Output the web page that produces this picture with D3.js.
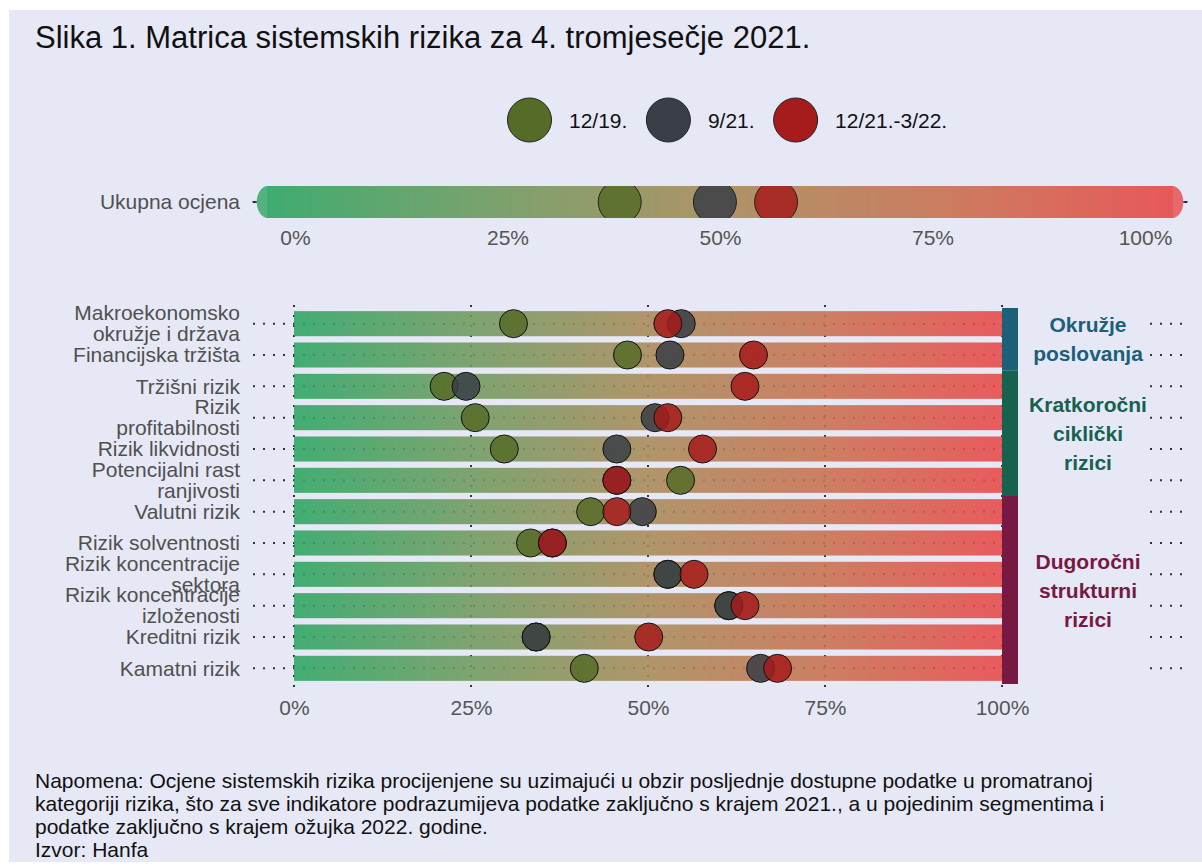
<!DOCTYPE html>
<html>
<head>
<meta charset="utf-8">
<script src="https://cdn.jsdelivr.net/npm/d3@7"></script>
<style>
  body { margin: 0; background: #fff; }
  text { font-family: "Liberation Sans", Arial, sans-serif; }
</style>
</head>
<body>
<svg width="1202" height="866"></svg>
<script>
const svg = d3.select('svg')

// data
const rows = ['Makroekonomsko\nokružje i država', 'Financijska tržišta', 'Tržišni rizik', 'Rizik\nprofitabilnosti',
  'Rizik likvidnosti', 'Potencijalni rast\nranjivosti', 'Valutni rizik', 'Rizik solventnosti',
  'Rizik koncentracije\nsektora', 'Rizik koncentracije\nizloženosti', 'Kreditni rizik', 'Kamatni rizik']
const series = ['12/19.', '9/21.', '12/21.-3/22.']
const v1219 = [31.0, 47.1, 21.2, 25.6, 29.7, 54.6, 41.9, 33.4, 52.8, 61.4, 34.2, 41.0]
const v0921 = [54.7, 53.1, 24.3, 51.0, 45.6, 45.6, 49.2, 36.5, 52.8, 61.4, 34.2, 65.9]
const v1221 = [52.8, 64.9, 63.7, 52.8, 57.7, 45.6, 45.6, 36.5, 56.5, 63.7, 50.1, 68.3]
const overall = [38.2, 49.4, 56.6]
const groups = ['Okružje\nposlovanja', 'Kratkoročni\nciklički\nrizici', 'Dugoročni\nstrukturni\nrizici']
const groupSizes = [2, 4, 6]
const ticks = [0, 25, 50, 75, 100]

const seriesColors = ['#566b27', '#3a3e47', '#a61b1b']
const groupColors = ['#1b5f79', '#17614f', '#761a43']
const bg = '#e6e8f6'

// background
svg.append('rect').attr('x', 9).attr('y', 10).attr('width', 1193).attr('height', 852).attr('fill', bg)

// gradient
const defs = svg.append('defs')
const grad = defs.append('linearGradient').attr('id', 'riskGrad')
grad.selectAll('stop')
  .data([[0, '#2ca562'], [0.25, '#6f9a5e'], [0.5, '#a88a58'], [0.75, '#c9704f'], [1, '#e84848']])
  .enter().append('stop')
  .attr('offset', d => d[0])
  .attr('stop-color', d => d[1])

// title
svg.append('text')
  .attr('x', 35).attr('y', 48)
  .style('font-size', '31px').attr('fill', '#111')
  .text('Slika 1. Matrica sistemskih rizika za 4. tromjesečje 2021.')

/*
LEGEND
*/
let lx = 529.5
series.forEach((s, i) => {
  svg.append('circle').attr('cx', lx).attr('cy', 120).attr('r', 22)
    .attr('fill', seriesColors[i]).attr('stroke', '#222').attr('stroke-width', 1)
  const t = svg.append('text').attr('x', lx + 39.5).attr('y', 127.5)
    .style('font-size', '21px').attr('fill', '#111').text(s)
  lx = lx + 39.5 + t.node().getComputedTextLength() + 41
})

/*
TOP PANEL - UKUPNA OCJENA
*/
const xTop = d3.scaleLinear().domain([0, 100]).range([295, 1145])
const topY = 186, topH = 32

// grid stubs at the bar ends only
svg.selectAll('.topgrid')
  .data([[-5, -4.5], [104.5, 105]])
  .enter().append('line')
  .attr('x1', d => xTop(d[0])).attr('x2', d => xTop(d[1]))
  .attr('y1', topY + topH / 2).attr('y2', topY + topH / 2)
  .attr('stroke', '#333').attr('stroke-width', 2)

svg.append('rect')
  .attr('x', xTop(-4.5)).attr('y', topY).attr('width', xTop(104.5) - xTop(-4.5)).attr('height', topH)
  .attr('rx', 11).attr('ry', 16)
  .attr('fill', 'url(#riskGrad)').attr('opacity', 0.8)
svg.append('rect')
  .attr('x', xTop(-3.3)).attr('y', topY).attr('width', xTop(103.3) - xTop(-3.3)).attr('height', topH)
  .attr('fill', 'url(#riskGrad)').attr('opacity', 0.5)

defs.append('clipPath').attr('id', 'topClip')
  .append('rect').attr('x', 0).attr('y', topY).attr('width', 1202).attr('height', topH)

svg.append('g').attr('clip-path', 'url(#topClip)')
  .selectAll('circle')
  .data(overall)
  .enter().append('circle')
  .attr('cx', d => xTop(d)).attr('cy', topY + topH / 2).attr('r', 21.5)
  .attr('fill', (d, i) => seriesColors[i]).attr('fill-opacity', 0.85)
  .attr('stroke', '#222').attr('stroke-width', 1)

svg.append('text')
  .attr('x', 240).attr('y', topY + topH / 2 + 7.3).attr('text-anchor', 'end')
  .style('font-size', '21px').attr('fill', '#505050').text('Ukupna ocjena')

const topAxis = svg.append('g')
  .attr('transform', `translate(0,${246 - 16})`)
  .call(d3.axisBottom(xTop).tickValues(ticks).tickFormat(d => d + '%').tickSize(0))
topAxis.select('.domain').remove()
topAxis.selectAll('text').style('font-size', '21px').attr('fill', '#555').attr('dy', '0.71em').attr('y', 0)

/*
MAIN MATRIX
*/
const x = d3.scaleLinear().domain([0, 100]).range([294, 1002])
const y = d3.scaleBand().domain(rows).range([308, 684]).paddingInner(0.2).paddingOuter(0.1)
const yc = r => y(r) + y.bandwidth() / 2

// grid
const grid = svg.append('g')
grid.selectAll('.vgrid')
  .data(ticks)
  .enter().append('line')
  .attr('x1', d => x(d)).attr('x2', d => x(d)).attr('y1', 305).attr('y2', 688)
  .attr('stroke', '#333').attr('stroke-width', 2).attr('stroke-dasharray', '2,8')
grid.selectAll('.hgrid')
  .data(rows)
  .enter().append('line')
  .attr('x1', 253).attr('x2', x(100)).attr('y1', yc).attr('y2', yc)
  .attr('stroke', '#333').attr('stroke-width', 2).attr('stroke-dasharray', '2,8')
grid.selectAll('.hgridR')
  .data(rows)
  .enter().append('line')
  .attr('x1', 1150).attr('x2', 1186).attr('y1', yc).attr('y2', yc)
  .attr('stroke', '#333').attr('stroke-width', 2).attr('stroke-dasharray', '2,8')

// bars
svg.append('g').selectAll('rect')
  .data(rows)
  .enter().append('rect')
  .attr('x', x(0)).attr('y', d => y(d))
  .attr('width', x(100) - x(0)).attr('height', y.bandwidth())
  .attr('fill', 'url(#riskGrad)').attr('opacity', 0.88)

// circles
const allSeries = [v1219, v0921, v1221]
allSeries.forEach((vals, si) => {
  svg.append('g').selectAll('circle')
    .data(vals)
    .enter().append('circle')
    .attr('cx', d => x(d)).attr('cy', (d, i) => yc(rows[i])).attr('r', 14)
    .attr('fill', seriesColors[si]).attr('fill-opacity', 0.85)
    .attr('stroke', '#111').attr('stroke-width', 1)
})

// row labels
const lab = svg.append('g').selectAll('text')
  .data(rows)
  .enter().append('text')
  .attr('text-anchor', 'end')
  .style('font-size', '21px').attr('fill', '#505050')
lab.each(function (d) {
  const lines = d.split('\n')
  const t = d3.select(this)
  lines.forEach((ln, i) => {
    t.append('tspan').attr('x', 240)
      .attr('y', yc(d) + 7.3 - (lines.length - 1) * 10.5 + i * 21)
      .text(ln)
  })
})

// bottom axis
const botAxis = svg.append('g')
  .attr('transform', 'translate(0,700)')
  .call(d3.axisBottom(x).tickValues(ticks).tickFormat(d => d + '%').tickSize(0))
botAxis.select('.domain').remove()
botAxis.selectAll('text').style('font-size', '21px').attr('fill', '#555').attr('dy', '0.71em').attr('y', 0)

// group bands and labels
const r0 = y.range()[0], step = y.step()
let start = 0
groups.forEach((g, i) => {
  const top = r0 + start * step
  const bot = r0 + (start + groupSizes[i]) * step
  svg.append('rect')
    .attr('x', x(100)).attr('y', top).attr('width', 16).attr('height', bot - top)
    .attr('fill', groupColors[i])
  const lines = g.split('\n')
  const mid = (top + bot) / 2
  const t = svg.append('text').attr('text-anchor', 'middle')
    .style('font-size', '21px').style('font-weight', 'bold').attr('fill', groupColors[i])
  lines.forEach((ln, j) => {
    t.append('tspan').attr('x', 1088)
      .attr('y', mid + 7.5 - (lines.length - 1) * 14.5 + j * 29)
      .text(ln)
  })
  start += groupSizes[i]
})

/*
NOTE
*/
const note = [
  'Napomena: Ocjene sistemskih rizika procijenjene su uzimajući u obzir posljednje dostupne podatke u promatranoj',
  'kategoriji rizika, što za sve indikatore podrazumijeva podatke zaključno s krajem 2021., a u pojedinim segmentima i',
  'podatke zaključno s krajem ožujka 2022. godine.',
  'Izvor: Hanfa'
]
svg.append('g').selectAll('text')
  .data(note)
  .enter().append('text')
  .attr('x', 35).attr('y', (d, i) => 787.5 + i * 23.2)
  .style('font-size', '21px').attr('fill', '#111')
  .text(d => d)
</script>
</body>
</html>
